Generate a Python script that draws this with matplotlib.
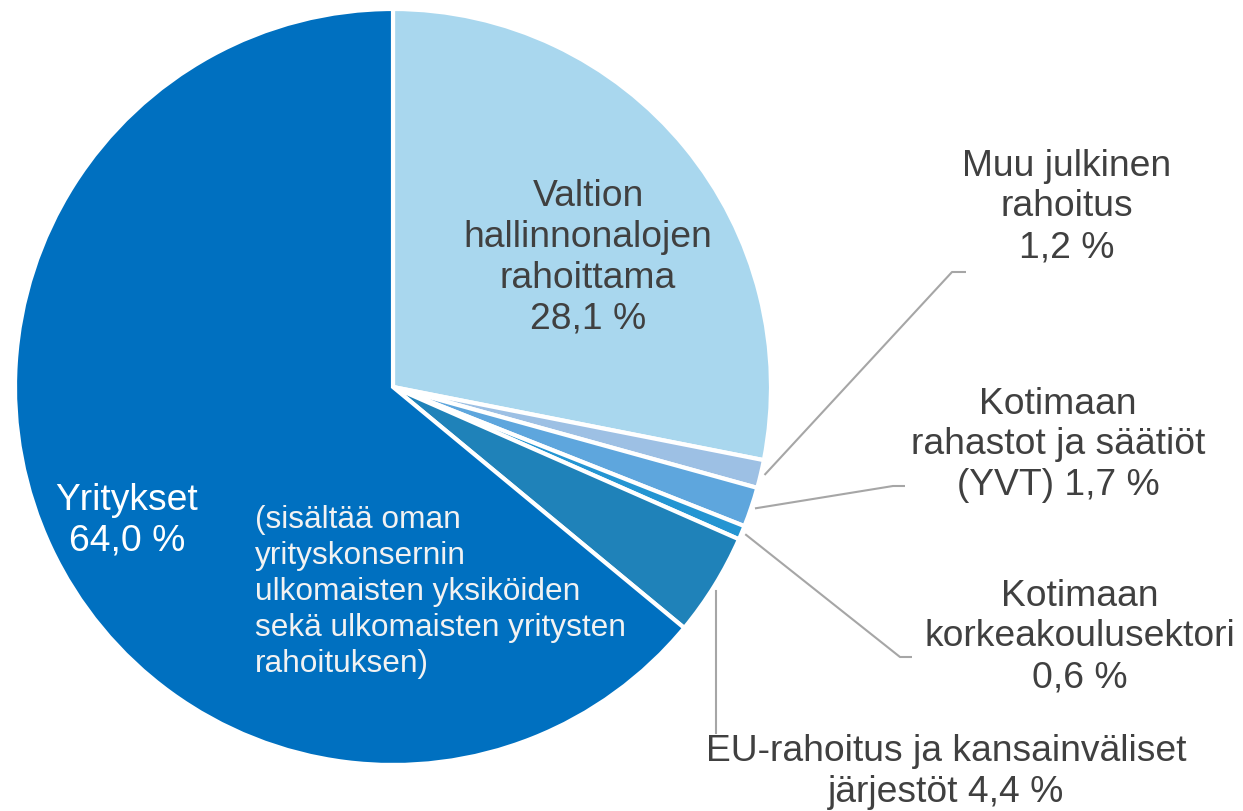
import numpy as np
import matplotlib
matplotlib.use("Agg")
import matplotlib.pyplot as plt

plt.rcParams["font.family"] = ["Liberation Sans", "DejaVu Sans"]

# shares of R&D funding, clockwise from 12 o'clock
sources = ["Valtion hallinnonalojen rahoittama", "Muu julkinen rahoitus",
           "Kotimaan rahastot ja säätiöt (YVT)", "Kotimaan korkeakoulusektori",
           "EU-rahoitus ja kansainväliset järjestöt", "Yritykset"]
shares = [28.1, 1.2, 1.7, 0.6, 4.4, 64.0]
colors = ["#A9D7EE", "#9DC0E4", "#5EA6DD", "#2495D2", "#1F82B9", "#0070C0"]

W, H = 1243, 811
fig = plt.figure(figsize=(W / 100, H / 100), dpi=100)
ax = fig.add_axes([0, 0, 1, 1])

cx, cy, R = 393, H - 387, 378
wedges, _ = ax.pie(shares, colors=colors, startangle=90, counterclock=False,
                   center=(cx, cy), radius=R, frame=True,
                   wedgeprops=dict(edgecolor="white", linewidth=3))
ax.set_xlim(0, W)
ax.set_ylim(0, H)
ax.set_aspect("equal")
ax.axis("off")


def fmt(v):
    return f"{v:.1f}".replace(".", ",") + " %"


def edge_point(i, k=1.01):
    w = wedges[i]
    a = np.deg2rad((w.theta1 + w.theta2) / 2)
    return cx + R * k * np.cos(a), cy + R * k * np.sin(a)


grey = "#404040"
line_c = "#A6A6A6"
fs = 26.8
ls = 1.22

# leader lines (elbow points in pixel coords from top)
elbows = {1: [(952, 272), (966, 272)],
          2: [(893, 486), (905, 486)],
          3: [(900, 657), (912, 657)]}
for i, pts in elbows.items():
    x0, y0 = edge_point(i)
    xs = [x0] + [p[0] for p in pts]
    ys = [y0] + [H - p[1] for p in pts]
    ax.plot(xs, ys, color=line_c, lw=1.5, solid_capstyle="butt")
x0, y0 = edge_point(4)
ax.plot([716, 716], [y0 - 3, H - 733], color=line_c, lw=1.5)

ax.text(588, H - 258, "Valtion\nhallinnonalojen\nrahoittama\n" + fmt(shares[0]),
        ha="center", va="center", fontsize=fs, color=grey, linespacing=ls)
ax.text(1067, H - 207, "Muu julkinen\nrahoitus\n" + fmt(shares[1]),
        ha="center", va="center", fontsize=fs, color=grey, linespacing=ls)
ax.text(1058, H - 445, "Kotimaan\nrahastot ja säätiöt\n(YVT) " + fmt(shares[2]),
        ha="center", va="center", fontsize=fs, color=grey, linespacing=ls)
ax.text(1080, H - 637, "Kotimaan\nkorkeakoulusektori\n" + fmt(shares[3]),
        ha="center", va="center", fontsize=fs, color=grey, linespacing=ls)
ax.text(946, H - 772, "EU-rahoitus ja kansainväliset\njärjestöt " + fmt(shares[4]),
        ha="center", va="center", fontsize=fs, color=grey, linespacing=ls)
ax.text(127, H - 521, "Yritykset\n" + fmt(shares[5]),
        ha="center", va="center", fontsize=fs, color="white", linespacing=ls)
ax.text(255, H - 592, "(sisältää oman\nyrityskonsernin\nulkomaisten yksiköiden\n"
        "sekä ulkomaisten yritysten\nrahoituksen)",
        ha="left", va="center", fontsize=22.8, color="#F2F2F2", linespacing=1.27)

fig.savefig("out.png", dpi=100)
